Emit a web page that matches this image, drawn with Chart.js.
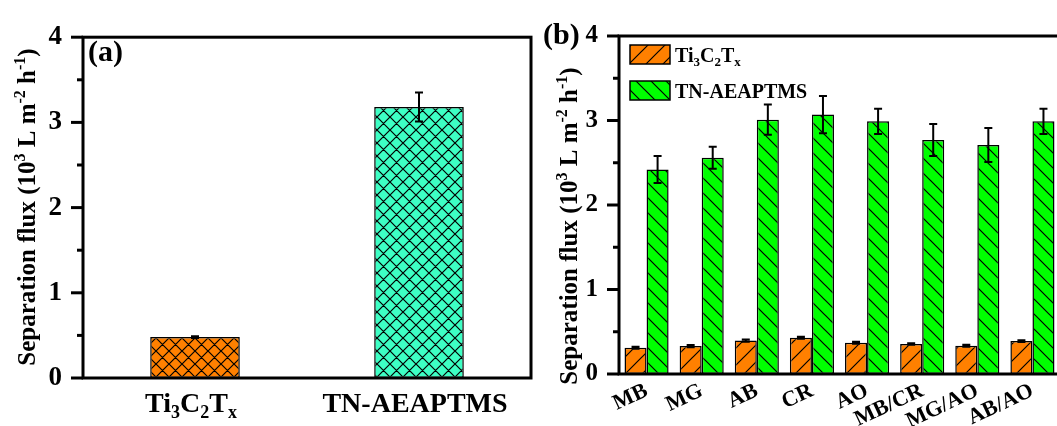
<!DOCTYPE html>
<html><head><meta charset="utf-8">
<script src="https://cdn.jsdelivr.net/npm/chart.js@4.4.1/dist/chart.umd.min.js"></script>
<style>
html,body{margin:0;padding:0;background:#fff;overflow:hidden;width:1057px;height:426px;}
canvas{position:absolute;top:0;}
#ca{left:0;} #cb{left:540px;}
</style></head><body>
<canvas id="ca" width="540" height="426"></canvas>
<canvas id="cb" width="530" height="426"></canvas>
<script>
const FONT = "'Liberation Serif','Times New Roman',serif";

// ---- data: panel (a) ----
const catsA = ['Ti_3C_2T_x', 'TN-AEAPTMS'];
const fluxA = [0.48, 3.18];
const errA  = [0.01, 0.17];

// ---- data: panel (b) ----
const catsB = ['MB', 'MG', 'AB', 'CR', 'AO', 'MB/CR', 'MG/AO', 'AB/AO'];
const seriesB = ['Ti_3C_2T_x', 'TN-AEAPTMS'];
const tiB    = [0.31, 0.33, 0.395, 0.43, 0.37, 0.355, 0.335, 0.39];
const tiErrB = [0.012, 0.013, 0.012, 0.012, 0.012, 0.01, 0.012, 0.01];
const tnB    = [2.42, 2.56, 3.01, 3.07, 2.99, 2.77, 2.71, 2.99];
const tnErrB = [0.16, 0.13, 0.18, 0.22, 0.15, 0.19, 0.20, 0.15];

const yTitle = 'Separation flux (10^3 L m^{-2} h^{-1})';

// ---- rich text helpers ----
function parseRich(s){
  const out=[]; let i=0;
  while(i<s.length){
    const c=s[i];
    if(c==='_'||c==='^'){
      const mode=c==='_'?1:2; let t;
      if(s[i+1]==='{'){const j=s.indexOf('}',i+2); t=s.slice(i+2,j); i=j+1;}
      else {t=s[i+1]; i+=2;}
      out.push({t,mode});
    } else {
      let j=i; while(j<s.length&&s[j]!=='_'&&s[j]!=='^') j++;
      out.push({t:s.slice(i,j),mode:0}); i=j;
    }
  }
  return out;
}
function plain(s){return parseRich(s).map(p=>p.t).join('');}
function partFont(size,mode){return 'bold '+(mode?Math.round(size*0.65):size)+'px '+FONT;}
function richWidth(ctx,s,size){
  let w=0; for(const p of parseRich(s)){ctx.font=partFont(size,p.mode); w+=ctx.measureText(p.t).width;} return w;
}
function drawRich(ctx,s,x,y,size,align){
  const w=richWidth(ctx,s,size);
  let cx = align==='center'? x-w/2 : (align==='right'? x-w : x);
  ctx.textAlign='left'; ctx.textBaseline='alphabetic'; ctx.fillStyle='#000';
  for(const p of parseRich(s)){
    ctx.font=partFont(size,p.mode);
    const dy = p.mode===1? size*0.22 : (p.mode===2? -size*0.42 : 0);
    ctx.fillText(p.t,cx,y+dy);
    cx+=ctx.measureText(p.t).width;
  }
}

// ---- hatch patterns ----
function hatch(ctx,bg,s,dirs,lw){
  const c=document.createElement('canvas'); c.width=c.height=s;
  const g=c.getContext('2d'); g.fillStyle=bg; g.fillRect(0,0,s,s);
  g.strokeStyle='#000'; g.lineWidth=lw; g.beginPath();
  if(dirs.includes('/')){g.moveTo(-1,s+1);g.lineTo(s+1,-1);g.moveTo(-1,1);g.lineTo(1,-1);g.moveTo(s-1,s+1);g.lineTo(s+1,s-1);}
  if(dirs.includes('\\')){g.moveTo(-1,-1);g.lineTo(s+1,s+1);g.moveTo(s-1,-1);g.lineTo(s+1,1);g.moveTo(-1,s-1);g.lineTo(1,s+1);}
  g.stroke();
  return ctx.createPattern(c,'repeat');
}

const ORANGE='#FF8000', TEAL='#3DFFC4', LIME='#00FF00';
const ctxA=document.getElementById('ca').getContext('2d');
const ctxB=document.getElementById('cb').getContext('2d');
const patOA=hatch(ctxA,ORANGE,13,'/\\',1.2);
const patTA=hatch(ctxA,TEAL,13,'/\\',1.2);
const patOB=hatch(ctxB,ORANGE,17,'/',1.2);
const patGB=hatch(ctxB,LIME,15,'\\',1.2);

// ---- shared drawing ----
function drawErrors(chart,errs){
  const ctx=chart.ctx, ys=chart.scales.y;
  chart.data.datasets.forEach((ds,d)=>{
    const meta=chart.getDatasetMeta(d);
    meta.data.forEach((el,i)=>{
      const v=ds.data[i], e=errs[d][i];
      const y1=ys.getPixelForValue(v+e), y2=ys.getPixelForValue(v-e);
      ctx.save(); ctx.strokeStyle='#000'; ctx.lineWidth=2;
      ctx.beginPath();
      ctx.moveTo(el.x,y1); ctx.lineTo(el.x,y2);
      ctx.moveTo(el.x-4,y1); ctx.lineTo(el.x+4,y1);
      ctx.moveTo(el.x-4,y2); ctx.lineTo(el.x+4,y2);
      ctx.stroke(); ctx.restore();
    });
  });
}
function drawFrame(chart){
  const ctx=chart.ctx, a=chart.chartArea, ys=chart.scales.y;
  ctx.save(); ctx.strokeStyle='#000'; ctx.lineWidth=3; ctx.lineCap='square';
  ctx.strokeRect(a.left,a.top,a.right-a.left,a.bottom-a.top);
  ctx.lineCap='butt';
  for(let v=0; v<=4.001; v+=0.5){
    const y=ys.getPixelForValue(v);
    const len = Math.abs(v-Math.round(v))<1e-6 ? 12 : 6;
    ctx.beginPath(); ctx.moveTo(a.left-len,y); ctx.lineTo(a.left,y); ctx.stroke();
  }
  ctx.restore();
}
function drawTitle(ctx,x,yc,size){
  ctx.save(); ctx.translate(x,yc); ctx.rotate(-Math.PI/2);
  drawRich(ctx,yTitle,0,0,size,'center'); ctx.restore();
}

const pluginA={id:'pa',
  afterDatasetsDraw(chart){ drawErrors(chart,[errA]); },
  afterDraw(chart){
    const ctx=chart.ctx, xs=chart.scales.x;
    drawFrame(chart);
    catsA.forEach((c,i)=>{ drawRich(ctx,c,xs.getPixelForTick(i)-4,412,28,'center'); });
    drawTitle(ctx,35,207,25);
    ctx.font='bold 30px '+FONT; ctx.fillStyle='#000'; ctx.textAlign='left'; ctx.textBaseline='alphabetic';
    ctx.fillText('(a)',88,61);
  }
};
const pluginB={id:'pb',
  afterDatasetsDraw(chart){ drawErrors(chart,[tiErrB,tnErrB]); },
  afterDraw(chart){
    const ctx=chart.ctx, a=chart.chartArea;
    drawFrame(chart);
    drawTitle(ctx,37,226,25);
    ctx.font='bold 30px '+FONT; ctx.fillStyle='#000'; ctx.textAlign='left'; ctx.textBaseline='alphabetic';
    ctx.fillText('(b)',3,44);
    const pats=[patOB,patGB];
    seriesB.forEach((s,i)=>{
      const bx=a.left+11, by=a.top+9+i*36;
      ctx.save(); ctx.fillStyle=pats[i]; ctx.fillRect(bx,by,40,19);
      ctx.strokeStyle='#000'; ctx.lineWidth=1.5; ctx.strokeRect(bx,by,40,19); ctx.restore();
      drawRich(ctx,s,bx+45,by+17,20,'left');
    });
  }
};

const common=(padTop,padRight)=>({
  responsive:false, animation:false, events:[],
  plugins:{legend:{display:false},tooltip:{enabled:false}},
  layout:{padding:{top:padTop,right:padRight,left:0,bottom:0}},
});

new Chart(ctxA,{
  type:'bar',
  data:{labels:catsA.map(plain),datasets:[{label:'flux',data:fluxA,backgroundColor:[patOA,patTA],
    borderColor:'#000',borderWidth:1.5,borderSkipped:false,barPercentage:0.4,categoryPercentage:1}]},
  options:Object.assign(common(29,9),{
    scales:{
      x:{grid:{display:false,drawTicks:false},border:{display:false},ticks:{display:false},afterFit(s){s.height=48;}},
      y:{min:0,max:4,ticks:{stepSize:1,font:{family:FONT,size:27,weight:'bold'},color:'#000',padding:21},
         grid:{display:false,drawTicks:false},border:{display:false},afterFit(s){s.width=83;}}
    }
  }),
  plugins:[pluginA]
});

new Chart(ctxB,{
  type:'bar',
  data:{labels:catsB,datasets:[
    {label:plain(seriesB[0]),data:tiB,backgroundColor:patOB,borderColor:'#000',borderWidth:1.5,borderSkipped:false,barPercentage:1,categoryPercentage:0.8},
    {label:plain(seriesB[1]),data:tnB,backgroundColor:patGB,borderColor:'#000',borderWidth:1.5,borderSkipped:false,barPercentage:1,categoryPercentage:0.8}
  ]},
  options:Object.assign(common(25,10),{
    scales:{
      x:{grid:{display:false,drawTicks:false},border:{display:false},
         ticks:{autoSkip:false,minRotation:25,maxRotation:25,padding:4,color:'#000',font:{family:FONT,size:22,weight:'bold'}},
         afterFit(s){s.height=52;}},
      y:{min:0,max:4,ticks:{stepSize:1,font:{family:FONT,size:25,weight:'bold'},color:'#000',padding:21},
         grid:{display:false,drawTicks:false},border:{display:false},afterFit(s){s.width=79;}}
    }
  }),
  plugins:[pluginB]
});
</script>
</body></html>
